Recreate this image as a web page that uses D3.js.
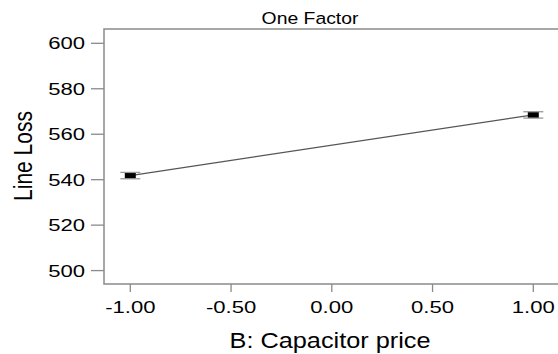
<!DOCTYPE html>
<html>
<head>
<meta charset="utf-8">
<script src="https://cdn.jsdelivr.net/npm/d3@7"></script>
<style>
  html, body { margin: 0; padding: 0; background: #fff; }
  svg text { font-family: "Liberation Sans", Arial, sans-serif; fill: #000; }
</style>
</head>
<body>
<svg id="chart" width="558" height="354"></svg>
<script>
// factor levels and predicted response
var levels = [-1, 1];
var means = [541.8, 568.5];
var halfBar = [1.4, 1.4];
var xTicks = [-1, -0.5, 0, 0.5, 1];
var yTicks = [500, 520, 540, 560, 580, 600];

var svg = d3.select('#chart');
var plotL = 104, plotR = 559.6, plotT = 29, plotB = 284;

var x = d3.scaleLinear().domain([-1.1305, 1.1305]).range([plotL, plotR]);
var y = d3.scaleLinear().domain([494.1, 606.3]).range([plotB, plotT]);

//外框
svg.append('rect')
    .attr('x', plotL).attr('y', plotT)
    .attr('width', plotR - plotL).attr('height', plotB - plotT)
    .attr('fill', 'none')
    .attr('stroke', '#8a8a8a')
    .attr('stroke-width', 1.5);

//y轴刻度
var yg = svg.append('g');
yg.selectAll('line')
    .data(yTicks).enter()
    .append('line')
    .attr('x1', plotL - 13).attr('x2', plotL)
    .attr('y1', function(d) { return y(d); })
    .attr('y2', function(d) { return y(d); })
    .attr('stroke', '#8a8a8a').attr('stroke-width', 1.3);
yg.selectAll('text')
    .data(yTicks).enter()
    .append('text')
    .attr('text-anchor', 'end')
    .attr('font-size', 17)
    .attr('transform', function(d) {
        return 'translate(' + 85 + ',' + (y(d) + 6) + ') scale(1.3,1)';
    })
    .text(function(d) { return d; });

//x轴刻度
var xg = svg.append('g');
xg.selectAll('line')
    .data(xTicks).enter()
    .append('line')
    .attr('x1', function(d) { return x(d); })
    .attr('x2', function(d) { return x(d); })
    .attr('y1', plotB).attr('y2', plotB + 8)
    .attr('stroke', '#8a8a8a').attr('stroke-width', 1.3);
xg.selectAll('text')
    .data(xTicks).enter()
    .append('text')
    .attr('text-anchor', 'middle')
    .attr('font-size', 17)
    .attr('transform', function(d) {
        return 'translate(' + x(d) + ',' + 313 + ') scale(1.3,1)';
    })
    .text(function(d) { return d.toFixed(2); });

//标题和轴标签
svg.append('text')
    .attr('text-anchor', 'middle')
    .attr('font-size', 17)
    .attr('transform', 'translate(310,24) scale(1.14,1)')
    .text('One Factor');

svg.append('text')
    .attr('text-anchor', 'middle')
    .attr('font-size', 22)
    .attr('transform', 'translate(330,348) scale(1.15,1)')
    .text('B: Capacitor price');

svg.append('text')
    .attr('text-anchor', 'middle')
    .attr('font-size', 21)
    .attr('transform', 'translate(32,156) rotate(-90) scale(1,1.2)')
    .text('Line Loss');

//连线
var pts = levels.map(function(d, i) { return [d, means[i]]; });
svg.append('path')
    .datum(pts)
    .attr('fill', 'none')
    .attr('stroke', '#555')
    .attr('stroke-width', 1.2)
    .attr('d', d3.line()
        .x(function(d) { return x(d[0]); })
        .y(function(d) { return y(d[1]); }));

//误差条
var eb = svg.append('g');
eb.selectAll('rect')
    .data(pts).enter()
    .append('rect')
    .attr('x', function(d) { return x(d[0]) - 5.5; })
    .attr('y', function(d, i) { return y(d[1] + halfBar[i]); })
    .attr('width', 11)
    .attr('height', function(d, i) { return y(d[1] - halfBar[i]) - y(d[1] + halfBar[i]); })
    .attr('fill', '#000');
[1, -1].forEach(function(s) {
    eb.selectAll('.cap' + s)
        .data(pts).enter()
        .append('line')
        .attr('x1', function(d) { return x(d[0]) - 10; })
        .attr('x2', function(d) { return x(d[0]) + 10; })
        .attr('y1', function(d, i) { return y(d[1] + s * halfBar[i]); })
        .attr('y2', function(d, i) { return y(d[1] + s * halfBar[i]); })
        .attr('stroke', '#999').attr('stroke-width', 1.3);
});
</script>
</body>
</html>
